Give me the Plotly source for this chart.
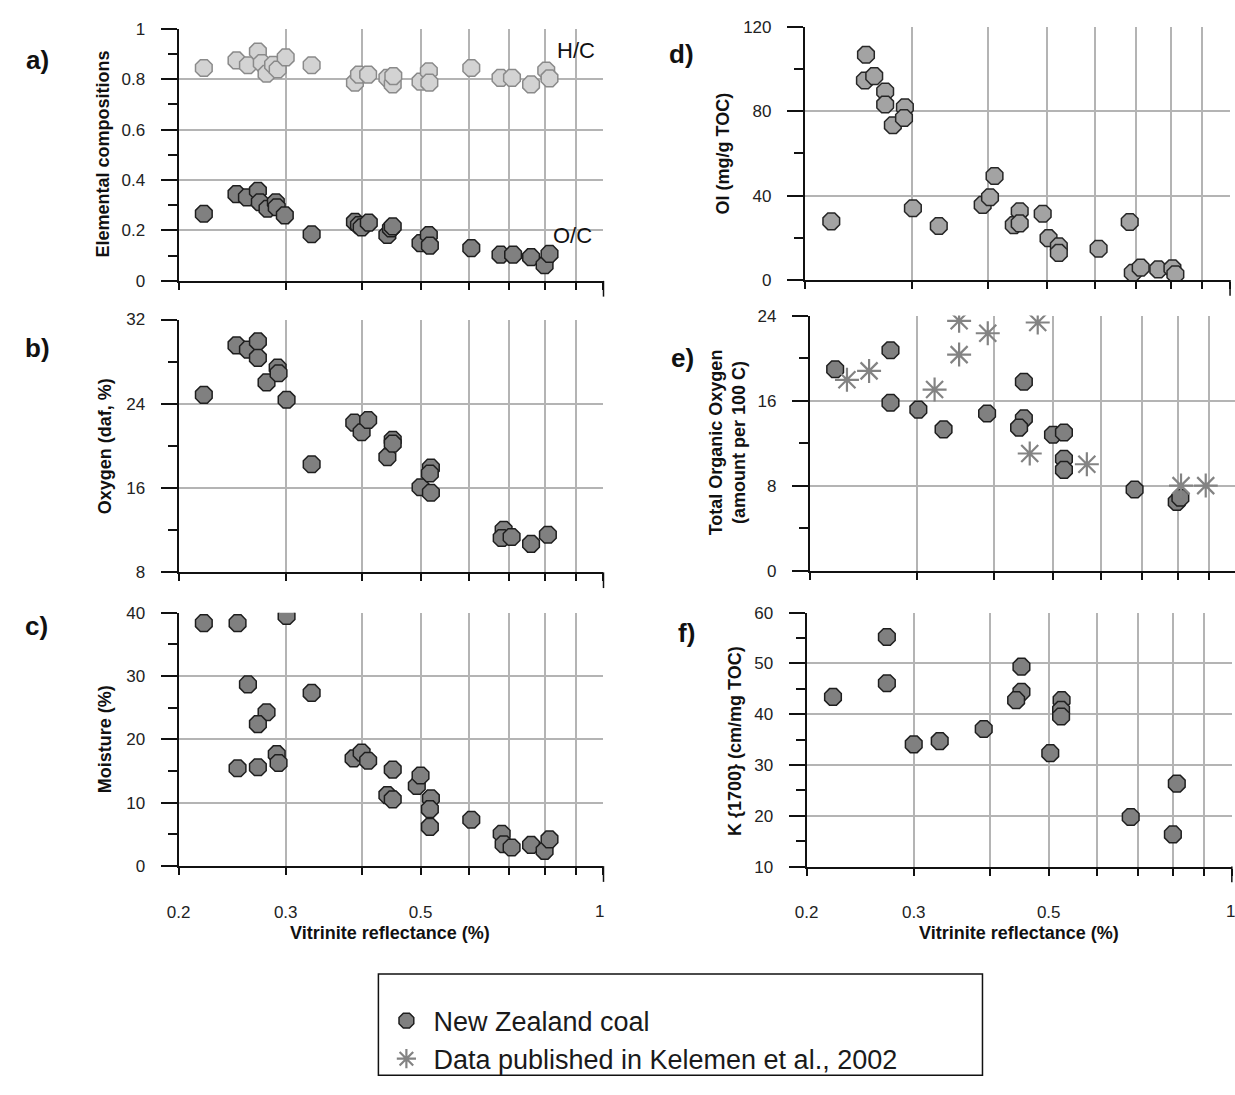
import plotly.graph_objects as go

W, H = 1235, 1095
FONT = "Liberation Sans, Arial, sans-serif"
INK = "#111111"

# ---------------- data: vitrinite reflectance (Ro, %) vs. properties ----------------
# a) elemental ratios
hc_ro = [0.22, 0.249, 0.26, 0.27, 0.274, 0.279, 0.286, 0.291, 0.30, 0.331, 0.39, 0.396, 0.41,
         0.441, 0.45, 0.451, 0.50, 0.516, 0.517, 0.606, 0.677, 0.707, 0.76, 0.805, 0.815]
hc = [0.844, 0.874, 0.855, 0.909, 0.864, 0.821, 0.857, 0.838, 0.886, 0.855, 0.786, 0.818, 0.818,
      0.805, 0.779, 0.812, 0.790, 0.831, 0.786, 0.844, 0.805, 0.805, 0.779, 0.834, 0.803]
oc_ro = [0.22, 0.249, 0.259, 0.27, 0.272, 0.28, 0.289, 0.29, 0.299, 0.331, 0.39, 0.396, 0.40,
         0.411, 0.441, 0.447, 0.45, 0.50, 0.516, 0.518, 0.606, 0.677, 0.71, 0.76, 0.80, 0.815]
oc = [0.266, 0.344, 0.331, 0.357, 0.312, 0.286, 0.312, 0.292, 0.260, 0.185, 0.234, 0.221, 0.212,
      0.231, 0.182, 0.208, 0.216, 0.150, 0.182, 0.140, 0.130, 0.104, 0.104, 0.094, 0.062, 0.107]

# b) oxygen (daf, %)
ox_ro = [0.22, 0.249, 0.26, 0.27, 0.27, 0.279, 0.291, 0.292, 0.301, 0.331, 0.389, 0.40, 0.41,
         0.441, 0.45, 0.45, 0.50, 0.52, 0.518, 0.52, 0.685, 0.68, 0.706, 0.76, 0.81]
oxygen = [24.85, 29.55, 29.14, 29.92, 28.36, 26.03, 27.43, 26.9, 24.38, 18.26, 22.21, 21.30, 22.46,
          18.94, 20.59, 20.22, 16.08, 17.94, 17.38, 15.56, 12.04, 11.26, 11.36, 10.71, 11.57]

# c) moisture (%)
mo_ro = [0.22, 0.25, 0.301, 0.26, 0.331, 0.279, 0.27, 0.25, 0.27, 0.29, 0.292, 0.388, 0.40, 0.41,
         0.45, 0.441, 0.45, 0.493, 0.50, 0.52, 0.518, 0.518, 0.606, 0.68, 0.685, 0.706, 0.76, 0.80, 0.815]
moisture = [38.34, 38.34, 39.47, 28.68, 27.33, 24.28, 22.42, 15.44, 15.6, 17.67, 16.28, 17.0, 17.92, 16.64,
            15.24, 11.21, 10.54, 12.65, 14.31, 10.7, 8.99, 6.2, 7.33, 5.12, 3.46, 2.94, 3.35, 2.42, 4.23]

# d) oxygen index (mg/g TOC)
oi_ro = [0.221, 0.252, 0.251, 0.260, 0.271, 0.271, 0.279, 0.292, 0.291, 0.301, 0.332, 0.392, 0.403, 0.410,
         0.441, 0.451, 0.451, 0.492, 0.503, 0.523, 0.523, 0.608, 0.684, 0.692, 0.713, 0.762, 0.804, 0.813]
oi = [27.8, 106.8, 94.6, 96.7, 89.4, 83.2, 73.4, 81.9, 76.8, 34.0, 25.6, 35.6, 39.2, 49.3,
      26.0, 32.6, 26.8, 31.4, 19.8, 15.9, 12.8, 14.8, 27.5, 3.4, 5.8, 5.0, 5.5, 2.7]

# e) total organic oxygen (amount per 100 C)
too_ro = [0.220, 0.271, 0.271, 0.301, 0.331, 0.390, 0.448, 0.448, 0.440, 0.500, 0.521, 0.521, 0.521,
          0.680, 0.797, 0.808]
too = [18.95, 20.74, 15.8, 15.16, 13.3, 14.79, 17.78, 14.33, 13.47, 12.79, 13.0, 10.54, 9.49,
       7.64, 6.47, 6.87]
kel_ro = [0.230, 0.250, 0.320, 0.351, 0.351, 0.391, 0.472, 0.458, 0.568, 0.810, 0.889]
kel_too = [17.96, 18.8, 17.04, 23.51, 20.33, 22.34, 23.35, 11.03, 10.02, 8.01, 8.01]

# f) K{1700} (cm/mg TOC)
k_ro = [0.221, 0.271, 0.271, 0.300, 0.331, 0.391, 0.451, 0.451, 0.442, 0.525, 0.524, 0.524, 0.503,
        0.682, 0.800, 0.812]
k1700 = [43.4, 55.2, 46.1, 34.07, 34.71, 37.09, 49.36, 44.4, 42.77, 42.77, 40.84, 39.55, 32.33,
         19.75, 16.33, 26.33]

x_ticks = [0.2, 0.3, 0.4, 0.5, 0.6, 0.7, 0.8, 0.9, 1.0]
x_ticktext = ["0.2", "0.3", "", "0.5", "", "", "", "", ""]
x_title = "Vitrinite reflectance (%)"


def px(xp):
    return xp / W


def py(yp):
    return 1 - yp / H


fig = go.Figure()

DARK = dict(color="#808080", line=dict(color="#1e1e1e", width=1.5))


def add(x, y, n, name=None, legend=False, marker=None):
    mk = dict(symbol="octagon", size=18, **(marker or DARK))
    fig.add_trace(go.Scatter(
        x=x, y=y, mode="markers", marker=mk, name=name, showlegend=legend,
        xaxis="x" + ("" if n == 1 else str(n)), yaxis="y" + ("" if n == 1 else str(n)),
        hoverinfo="skip"))


add(hc_ro, hc, 1, marker=dict(color="#d3d3d3", line=dict(color="#8a8a8a", width=1.5)))
add(oc_ro, oc, 1)
add(ox_ro, oxygen, 2)
add(mo_ro, moisture, 3)
add(oi_ro, oi, 4, marker=dict(color="#a3a3a3", line=dict(color="#262626", width=1.5)))
add(too_ro, too, 5, name="New Zealand coal", legend=True)
fig.add_trace(go.Scatter(
    x=kel_ro, y=kel_too, mode="markers", name="Data published in Kelemen et al., 2002",
    marker=dict(symbol="asterisk-open", size=20, color="#838383",
                line=dict(color="#838383", width=2.2)),
    xaxis="x5", yaxis="y5", hoverinfo="skip"))
add(k_ro, k1700, 6)

# panel frames in pixel space: (left, right, top, bottom), y range, major/minor step
panels = {
    1: ((168.3, 597.3, 20.0, 276.7), [0, 1], 0.2, 0.1, False, None),
    2: ((168.3, 597.3, 316.0, 573.3), [8, 32], 8, 4, False, None),
    3: ((168.3, 597.3, 614.3, 872.3), [0, 40], 10, 5, True, None),
    4: ((800.7, 1230.0, 18.3, 275.7), [0, 120], 40, 20, False, None),
    5: ((805.7, 1235.0, 312.0, 571.7), [0, 24], 8, 4, False, 617.0),
    6: ((802.4, 1231.8, 614.3, 872.7), [10, 60], 10, 5, True, None),
}

LOG02 = -0.69897
layout = {}
shapes = []
for n, ((l, r, t, b), yr, dmaj, dmin, labels, ppd) in panels.items():
    suf = "" if n == 1 else str(n)
    xr = [LOG02, 0.0]
    if ppd is not None:
        xr = [LOG02, LOG02 + (r - l) / ppd]
    layout["xaxis" + suf] = dict(
        type="log", domain=[px(l), px(r)], range=xr, anchor="y" + suf,
        tickmode="array", tickvals=x_ticks, ticktext=x_ticktext, showticklabels=labels,
        ticks="outside", ticklen=7, tickwidth=1.5, tickcolor=INK,
        showline=True, linecolor=INK, linewidth=2,
        showgrid=True, gridcolor="#b4b4b4", gridwidth=1.5, zeroline=False,
        tickfont=dict(family=FONT, size=17, color="#222222"), ticklabelstandoff=22,
        fixedrange=True)
    layout["yaxis" + suf] = dict(
        domain=[py(b), py(t)], range=yr, anchor="x" + suf,
        dtick=dmaj, tick0=yr[0], ticks="outside", ticklen=16, tickwidth=1.5, tickcolor=INK,
        minor=dict(dtick=dmin, tick0=yr[0], ticks="outside", ticklen=9, tickwidth=1.5,
                   tickcolor=INK, showgrid=False),
        showline=True, linecolor=INK, linewidth=2,
        showgrid=True, gridcolor="#b4b4b4", gridwidth=1.5, zeroline=False,
        tickfont=dict(family=FONT, size=17, color="#222222"), ticklabelstandoff=12,
        fixedrange=True)
    if ppd is None:
        # the closing tick at the right end of the reflectance axis runs longer
        shapes.append(dict(type="line", xref="x" + suf + " domain", yref="y" + suf + " domain",
                           x0=1, x1=1, y0=0, y1=-16 / (b - t),
                           line=dict(color=INK, width=1.5)))

ann = []


def text(x, y, s, size, bold=False, angle=0, anchor="center", color=INK):
    ann.append(dict(x=px(x), y=py(y), xref="paper", yref="paper", text=s, showarrow=False,
                    textangle=angle, xanchor=anchor, yanchor="middle",
                    font=dict(family=FONT, size=size, color=color,
                              weight="bold" if bold else "normal")))


# panel letters
for s, x, y in [("a)", 26, 52), ("b)", 26, 345), ("c)", 25, 628),
                ("d)", 676, 46), ("e)", 677, 355), ("f)", 681, 635)]:
    text(x, y, s, 26, bold=True)

# axis titles
text(92, 148, "Elemental compositions", 18, bold=True, angle=-90)
text(94, 445, "Oxygen (daf, %)", 18, bold=True, angle=-90)
text(94, 743, "Moisture (%)", 18, bold=True, angle=-90)
text(718, 147, "OI (mg/g TOC)", 18, bold=True, angle=-90)
text(722, 441, "Total Organic Oxygen<br>(amount per 100 C)", 18, bold=True, angle=-90)
text(730, 745, "K {1700} (cm/mg TOC)", 18, bold=True, angle=-90)
text(382, 940, x_title, 18, bold=True)
text(1017, 940, x_title, 18, bold=True)

# series labels in panel a
text(570, 42, "H/C", 22)
text(566, 231, "O/C", 22)

# last reflectance tick label sits a little lower than the others
text(593, 918, "1", 17, color="#222222")
text(1230, 918, "1", 17, color="#222222")

shapes.append(dict(type="rect", xref="paper", yref="paper", x0=px(370), x1=px(980),
                   y0=py(1085), y1=py(982), line=dict(color=INK, width=1.5)))

fig.update_layout(
    width=W, height=H, margin=dict(l=0, r=0, t=0, b=0),
    paper_bgcolor="white", plot_bgcolor="white",
    annotations=ann,
    shapes=shapes,
    legend=dict(x=px(371), y=py(1005), xanchor="left", yanchor="top",
                bgcolor="rgba(0,0,0,0)", borderwidth=0,
                font=dict(family=FONT, size=27, color="#1a1a1a"), itemwidth=44,
                tracegroupgap=0),
    **layout,
)

fig.write_html("out.html")
